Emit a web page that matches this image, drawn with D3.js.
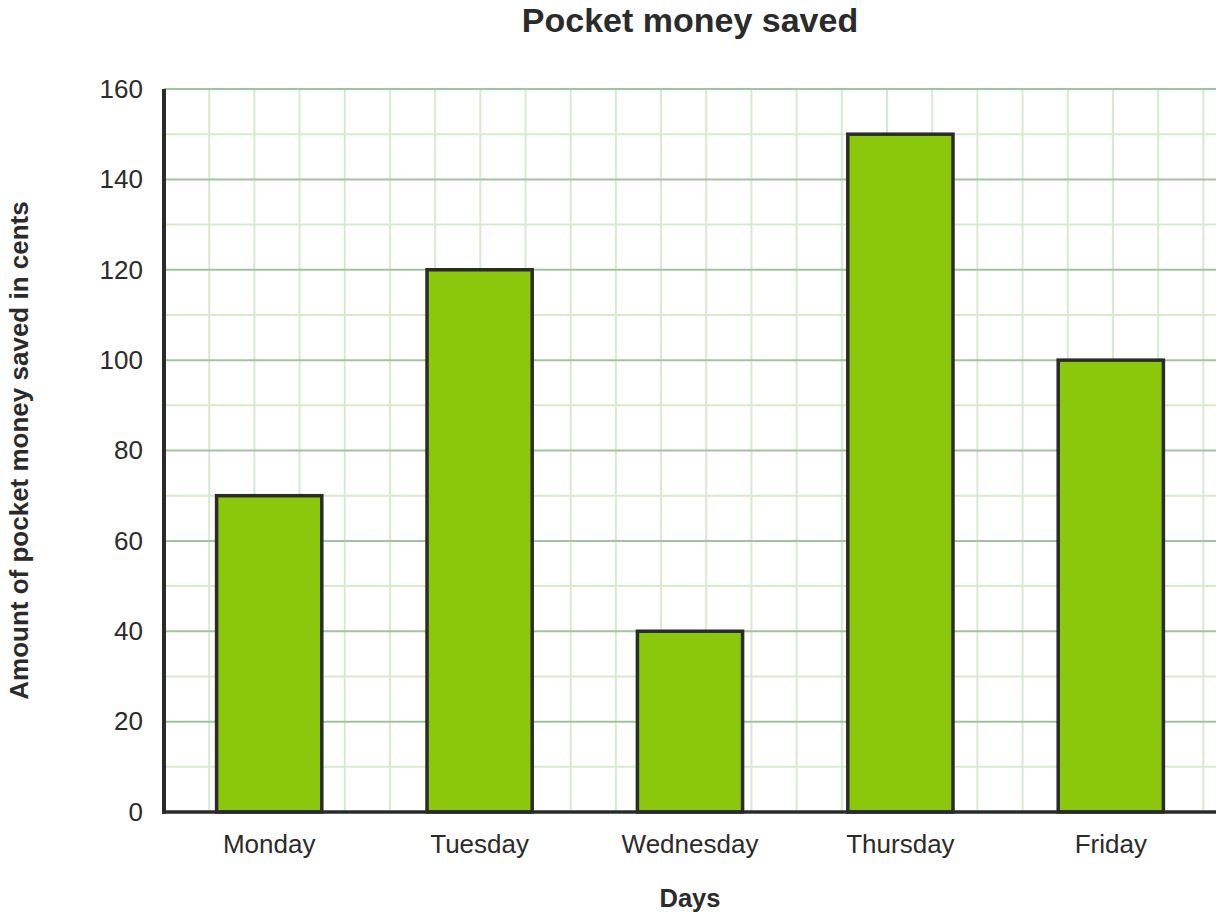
<!DOCTYPE html>
<html>
<head>
<meta charset="utf-8">
<script src="https://cdn.jsdelivr.net/npm/d3@7"></script>
<style>
  html, body { margin: 0; padding: 0; background: #fff; }
  svg { display: block; font-family: "Liberation Sans", Arial, sans-serif; }
</style>
</head>
<body>
<svg id="chart" width="1224" height="922"></svg>
<script>
const categories = ["Monday", "Tuesday", "Wednesday", "Thursday", "Friday"];
const values = [70, 120, 40, 150, 100];
const yTicks = [0, 20, 40, 60, 80, 100, 120, 140, 160];
const minorTicks = [10, 30, 50, 70, 90, 110, 130, 150];
const title = "Pocket money saved";
const xTitle = "Days";
const yTitle = "Amount of pocket money saved in cents";

(function () {
const svg = d3.select("#chart");
const pLeft = 164, pRight = 1216, pTop = 89, pBottom = 812;

const x = d3.scaleBand().domain(categories).range([pLeft, pRight])
  .paddingInner(0.5).paddingOuter(0.25);
const y = d3.scaleLinear().domain([0, 160]).range([pBottom, pTop]);

const textColor = "#2b2b2b";

// grid
const grid = svg.append("g");
const cell = y(0) - y(10);
const vx = d3.range(1, Math.floor((pRight - pLeft) / cell) + 1).map(k => pLeft + k * cell);
grid.selectAll(".vline").data(vx).join("line")
  .attr("x1", d => d).attr("x2", d => d)
  .attr("y1", pTop).attr("y2", pBottom)
  .attr("stroke", "#d8eacd").attr("stroke-width", 2);
grid.selectAll(".minor").data(minorTicks).join("line")
  .attr("x1", pLeft).attr("x2", pRight)
  .attr("y1", d => y(d)).attr("y2", d => y(d))
  .attr("stroke", "#d8eacd").attr("stroke-width", 2);
grid.selectAll(".major").data(yTicks.filter(d => d > 0)).join("line")
  .attr("x1", pLeft).attr("x2", pRight)
  .attr("y1", d => y(d)).attr("y2", d => y(d))
  .attr("stroke", "#9fc4a0").attr("stroke-width", 2);

// bars
svg.append("g").selectAll("rect").data(categories).join("rect")
  .attr("x", d => x(d))
  .attr("y", (d, i) => y(values[i]))
  .attr("width", x.bandwidth())
  .attr("height", (d, i) => y(0) - y(values[i]))
  .attr("fill", "#8bc70a")
  .attr("stroke", "#2b2b2b")
  .attr("stroke-width", 3.5);

// axes
const yAxis = d3.axisLeft(y).tickValues(yTicks).tickSize(0).tickPadding(21);
const gy = svg.append("g").attr("transform", `translate(${pLeft},0)`).call(yAxis);
gy.select(".domain").remove();
gy.selectAll("text").attr("font-size", 26).attr("fill", textColor)
  .attr("font-family", "'Liberation Sans', Arial, sans-serif");

const xAxis = d3.axisBottom(x).tickSize(0).tickPadding(23);
const gx = svg.append("g").attr("transform", `translate(0,${pBottom})`).call(xAxis);
gx.select(".domain").remove();
gx.selectAll("text").attr("font-size", 26).attr("fill", textColor)
  .attr("font-family", "'Liberation Sans', Arial, sans-serif");

svg.append("line").attr("x1", pLeft).attr("x2", pLeft)
  .attr("y1", pTop).attr("y2", pBottom + 1.75)
  .attr("stroke", "#2b2b2b").attr("stroke-width", 4);
svg.append("line").attr("x1", pLeft - 2).attr("x2", pRight)
  .attr("y1", pBottom).attr("y2", pBottom)
  .attr("stroke", "#2b2b2b").attr("stroke-width", 3.5);

// titles
svg.append("text").attr("x", (pLeft + pRight) / 2).attr("y", 32)
  .attr("text-anchor", "middle").attr("font-size", 34).attr("font-weight", "bold")
  .attr("fill", textColor).text(title);
svg.append("text").attr("x", (pLeft + pRight) / 2).attr("y", 907)
  .attr("text-anchor", "middle").attr("font-size", 25.5).attr("font-weight", "bold")
  .attr("fill", textColor).text(xTitle);
svg.append("text")
  .attr("transform", `translate(28,${(pTop + pBottom) / 2}) rotate(-90)`)
  .attr("text-anchor", "middle").attr("font-size", 26).attr("font-weight", "bold")
  .attr("fill", textColor).text(yTitle);
})();
</script>
</body>
</html>
